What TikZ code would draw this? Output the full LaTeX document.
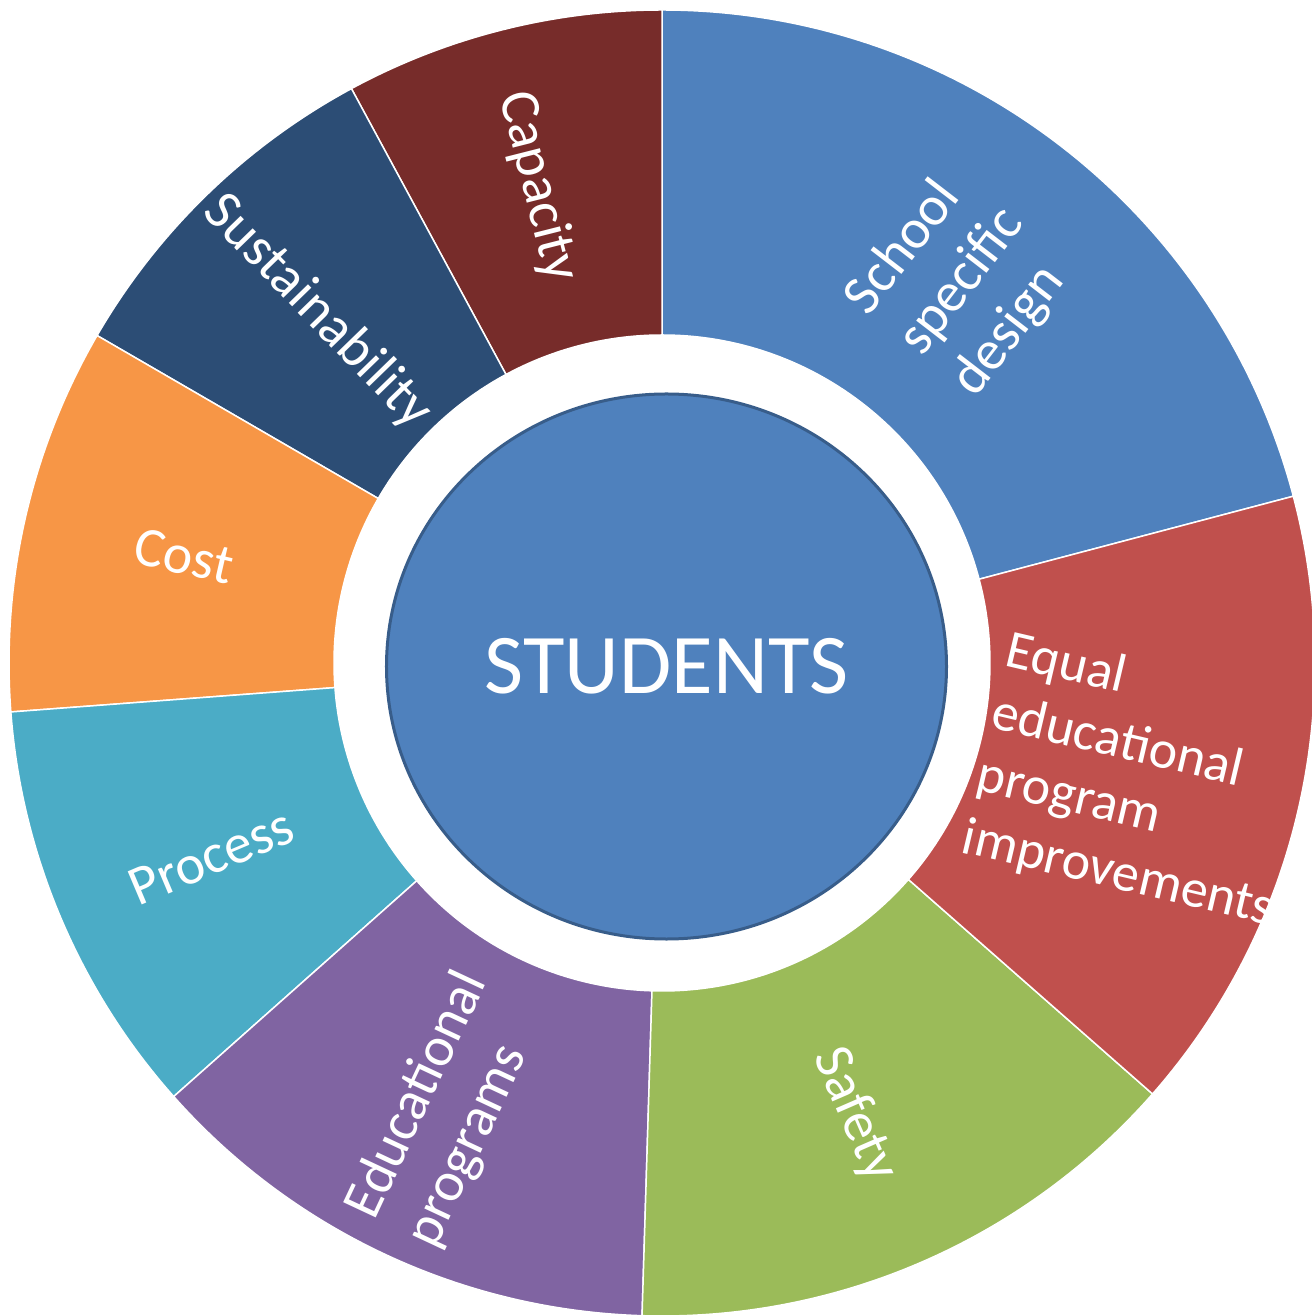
\documentclass[tikz,border=0pt]{standalone}
\usepackage{fontspec}
\setmainfont{Carlito}
\usetikzlibrary{shapes.geometric}
\definecolor{cSchool}{HTML}{4F81BD}
\definecolor{cCap}{HTML}{772C2A}
\definecolor{cSust}{HTML}{2C4D75}
\definecolor{cCost}{HTML}{F79646}
\definecolor{cProc}{HTML}{4BACC6}
\definecolor{cEdu}{HTML}{8064A2}
\definecolor{cSafe}{HTML}{9BBB59}
\definecolor{cEqual}{HTML}{C0504D}
\definecolor{cBorder}{HTML}{385D8A}
\begin{document}
\begin{tikzpicture}[x=1bp,y=1bp,
  seg/.style={draw=white, line width=1.5bp, line join=round},
  lbl/.style={text=white, inner sep=0pt, align=left,
    font=\fontsize{56bp}{67bp}\selectfont},
  lblsmall/.style={lbl, font=\fontsize{54bp}{64bp}\selectfont}]
\useasboundingbox (-662,-653) rectangle (650,663);
\clip (-662,-653) rectangle (650,663);
\foreach \a/\b/\c in {14.8/90/cSchool, 90/118.4/cCap, 118.4/149.9/cSust,
  149.9/184.3/cCost, 184.3/221.6/cProc, 221.6/268.25/cEdu,
  268.25/318.7/cSafe, 318.7/374.8/cEqual}
  \filldraw[seg, fill=\c] (\a:328) arc[start angle=\a, end angle=\b, radius=328]
    -- (\b:653) arc[start angle=\b, end angle=\a, radius=653] -- cycle;
\node (students) [ellipse, fill=cSchool, draw=cBorder, line width=3bp,
  minimum width=560bp, minimum height=545bp, inner sep=0pt, text=white,
  font=\fontsize{85bp}{100bp}\selectfont] at (4.5,-3.5) {STUDENTS};
\node (school) [lbl, rotate=52.4] at (300,381) {School\\specific\\design};
\node (equal) [lblsmall, rotate=-13.25] at (478,-118) {Equal\\educational\\program\\improvements};
\node (safety) [lbl, rotate=-66.5] at (193,-452) {Safety};
\node (edu) [lbl, rotate=64.9] at (-214,-447) {Educational\\programs};
\node (process) [lbl, rotate=22.95] at (-451,-194) {Process};
\node (cost) [lbl, rotate=-12.9] at (-478,107) {Cost};
\node (sust) [lbl, rotate=-45.85] at (-344,351) {Sustainability};
\node (capacity) [lbl, rotate=-75.8] at (-124,476) {Capacity};
\end{tikzpicture}
\end{document}
